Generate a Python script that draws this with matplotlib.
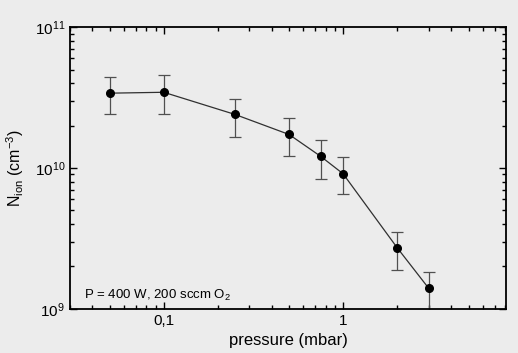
import numpy as np
import matplotlib
matplotlib.use("Agg")
import matplotlib.pyplot as plt
from matplotlib.ticker import FixedLocator, LogLocator, NullFormatter

plt.rcParams['font.family'] = ['Liberation Sans', 'DejaVu Sans']
plt.rcParams['mathtext.fontset'] = 'custom'
plt.rcParams['mathtext.rm'] = 'Liberation Sans'
plt.rcParams['mathtext.it'] = 'Liberation Sans'

# data
pressure = [0.05, 0.1, 0.25, 0.5, 0.75, 1.0, 2.0, 3.0]
n_ion = [3.4e10, 3.45e10, 2.4e10, 1.73e10, 1.21e10, 9.1e9, 2.72e9, 1.4e9]
err_up = [1.0e10, 1.1e10, 0.7e10, 0.52e10, 0.36e10, 0.29e10, 0.8e9, 0.42e9]
err_down = [1.0e10, 1.05e10, 0.73e10, 0.52e10, 0.37e10, 0.26e10, 0.82e9, 0.42e9]

bg = '#ececec'
fig = plt.figure(figsize=(5.18, 3.53), dpi=100, facecolor=bg)
ax = fig.add_axes([0.135, 0.125, 0.842, 0.798], facecolor=bg)

ax.errorbar(pressure, n_ion, yerr=[err_down, err_up], fmt='none',
            ecolor='#505050', elinewidth=0.9, capsize=4, capthick=0.9, zorder=2)
ax.plot(pressure, n_ion, color='#303030', lw=0.9, marker='o', ms=5.5,
        mfc='black', mec='black', zorder=3)

ax.set_xscale('log')
ax.set_yscale('log')
ax.set_xlim(0.03, 8.1)
ax.set_ylim(1e9, 1e11)

ax.xaxis.set_major_locator(FixedLocator([0.1, 1]))
ax.set_xticklabels(['0,1', '1'])
ax.xaxis.set_minor_locator(LogLocator(base=10, subs=np.arange(2, 10)))
ax.xaxis.set_minor_formatter(NullFormatter())

ax.yaxis.set_major_locator(FixedLocator([1e9, 1e10, 1e11]))
ax.set_yticklabels([r'$10^{9}$', r'$10^{10}$', r'$10^{11}$'])
ax.yaxis.set_minor_locator(LogLocator(base=10, subs=np.arange(2, 10)))
ax.yaxis.set_minor_formatter(NullFormatter())

ax.tick_params(which='both', direction='in', top=True, right=True, labelsize=11,
               width=1)
ax.tick_params(which='major', length=5)
ax.tick_params(which='minor', length=3)
for s in ax.spines.values():
    s.set_linewidth(1.3)

ax.set_xlabel('pressure (mbar)', fontsize=12, labelpad=4)
ax.set_ylabel(r'N$_{\mathrm{ion}}$ (cm$^{-3}$)', fontsize=11.5, labelpad=6)

ax.text(0.036, 1.17e9, r'P = 400 W, 200 sccm O$_2$', fontsize=9.5)

fig.savefig('out.png', dpi=100, facecolor=bg)
